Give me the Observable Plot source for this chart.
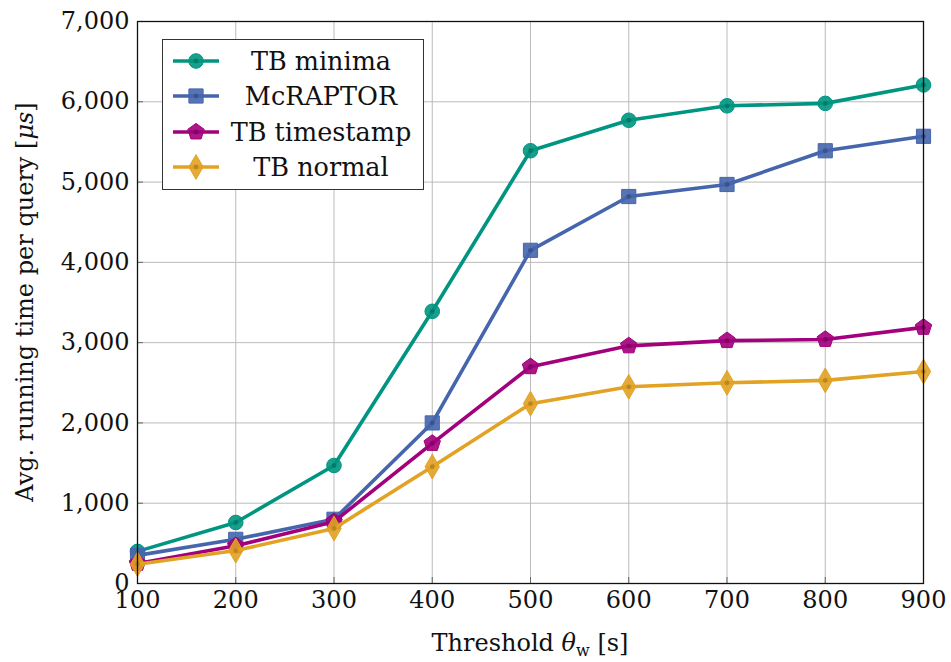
<!DOCTYPE html>
<html>
<head>
<meta charset="utf-8">
<script src="https://cdn.jsdelivr.net/npm/d3@7"></script>
<script src="https://cdn.jsdelivr.net/npm/@observablehq/plot@0.6"></script>
<style>
  html, body { margin: 0; padding: 0; background: #fff; }
  #wrap { position: relative; width: 951px; height: 662px; font-family: "DejaVu Serif", serif; }
  #legend { position: absolute; left: 162px; top: 39px; width: 262px; height: 151px; border: 1.3px solid #333; background: #fff; box-sizing: border-box; }
  .row { position: absolute; left: 0; height: 36px; width: 100%; }
  .row svg { position: absolute; left: 8px; top: 0; }
  .row span { position: absolute; left: 58px; right: 2px; text-align: center; font-size: 25.5px; line-height: 36px; color: #111; font-family: "DejaVu Serif", serif; white-space: nowrap; }
</style>
</head>
<body>
<div id="wrap"><div id="chart"></div><div id="legend"></div></div>
<script>
const thresholds = [100, 200, 300, 400, 500, 600, 700, 800, 900];
const seriesNames = ["TB minima", "McRAPTOR", "TB timestamp", "TB normal"];
const tbMinima    = [400, 760, 1470, 3390, 5390, 5770, 5950, 5980, 6210];
const mcRaptor    = [350, 550, 800, 2000, 4150, 4820, 4970, 5390, 5570];
const tbTimestamp = [250, 470, 770, 1745, 2700, 2960, 3025, 3040, 3190];
const tbNormal    = [240, 410, 685, 1455, 2240, 2450, 2500, 2530, 2640];
const yTicks = [0, 1000, 2000, 3000, 4000, 5000, 6000, 7000];
const colors = ["#009580", "#4565ad", "#a2007c", "#e2a224"];
const FONT = "'DejaVu Serif', serif";

const pentagon = {
  draw(context, size) {
    const r = Math.sqrt(size / 2.378);
    for (let i = 0; i < 5; i++) {
      const a = -Math.PI / 2 + i * 2 * Math.PI / 5;
      const x = r * Math.cos(a), y = r * Math.sin(a);
      if (i === 0) context.moveTo(x, y); else context.lineTo(x, y);
    }
    context.closePath();
  }
};
const symbols = ["circle", "square", pentagon, "diamond"];
const radii = [7.3, 8, 7.5, 7.5];

const allValues = [tbMinima, mcRaptor, tbTimestamp, tbNormal];
const data = [];
seriesNames.forEach((s, i) => thresholds.forEach((t, j) => data.push({series: s, idx: i, x: t, y: allValues[i][j]})));

const marks = [
  Plot.gridX(thresholds, {stroke: "#bbb", strokeOpacity: 1, strokeWidth: 1}),
  Plot.gridY(yTicks, {stroke: "#bbb", strokeOpacity: 1, strokeWidth: 1}),
  Plot.axisX(thresholds, {tickSize: -6, tickFormat: () => "", stroke: "#666"}),
  Plot.axisY(yTicks, {tickSize: -6, tickFormat: () => "", stroke: "#666"}),
  Plot.axisX(thresholds, {tickSize: 0, tickPadding: 7, fontSize: 24, tickFormat: d => String(d), label: null, fill: "#111"}),
  Plot.axisY(yTicks, {tickSize: 0, tickPadding: 8, fontSize: 24, tickFormat: d3.format(","), label: null, fill: "#111"}),
];
seriesNames.forEach((s, i) => {
  const d = data.filter(e => e.idx === i);
  marks.push(Plot.line(d, {x: "x", y: "y", stroke: colors[i], strokeWidth: 3.6}));
  marks.push(Plot.dot(d, {x: "x", y: "y", symbol: () => symbols[i], r: radii[i], fill: colors[i], stroke: colors[i], strokeWidth: 1, fillOpacity: 0.9}));
  marks.push(Plot.dot(d, {x: "x", y: "y", r: 2.4, fill: d3.color(colors[i]).darker(0.8).formatHex(), fillOpacity: 0.7}));
});
marks.push(Plot.frame({stroke: "#111", strokeWidth: 1.3}));

const chart = Plot.plot({
  width: 951, height: 662,
  marginLeft: 137, marginRight: 28, marginTop: 21, marginBottom: 79,
  style: {fontFamily: FONT, background: "#fff", color: "#111"},
  x: {domain: [100, 900], label: null},
  y: {domain: [0, 7000], label: null},
  marks
});
document.getElementById("chart").appendChild(chart);

const svg = d3.select(chart);
svg.append("text").attr("x", 530).attr("y", 651).attr("text-anchor", "middle")
  .attr("font-size", 24).attr("fill", "#111").style("font-family", FONT)
  .html('Threshold <tspan font-style="italic">θ</tspan><tspan font-size="16" dy="5">w</tspan><tspan dy="-5"> [s]</tspan>');
svg.append("text").attr("transform", "translate(33,302) rotate(-90)").attr("text-anchor", "middle")
  .attr("font-size", 24).attr("fill", "#111").style("font-family", FONT)
  .html('Avg. running time per query [<tspan font-style="italic">μs</tspan>]');

const legend = d3.select("#legend");
seriesNames.forEach((s, i) => {
  const row = legend.append("div").attr("class", "row").style("top", (3 + i * 35.3) + "px");
  const sv = row.append("svg").attr("width", 50).attr("height", 36);
  sv.append("line").attr("x1", 2).attr("x2", 48).attr("y1", 18).attr("y2", 18).attr("stroke", colors[i]).attr("stroke-width", 3.6);
  const sym = typeof symbols[i] === "string" ? {circle: d3.symbolCircle, square: d3.symbolSquare, diamond: d3.symbolDiamond}[symbols[i]] : symbols[i];
  sv.append("path").attr("transform", "translate(25,18)").attr("d", d3.symbol(sym, Math.PI * radii[i] * radii[i])())
    .attr("fill", colors[i]).attr("stroke", colors[i]).attr("fill-opacity", 0.9);
  sv.append("circle").attr("cx", 25).attr("cy", 18).attr("r", 2.4).attr("fill", d3.color(colors[i]).darker(0.8).formatHex()).attr("fill-opacity", 0.7);
  row.append("span").text(s);
});
</script>
</body>
</html>
